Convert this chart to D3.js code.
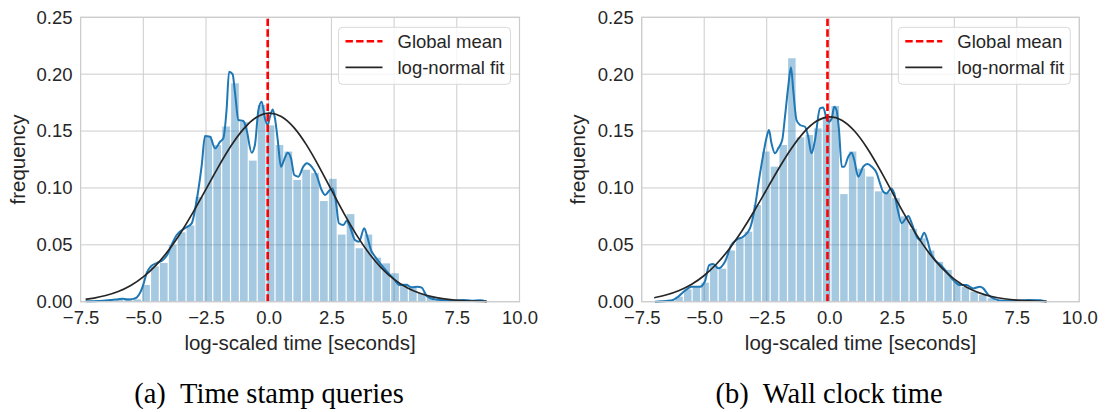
<!DOCTYPE html>
<html>
<head>
<meta charset="utf-8">
<script src="https://cdn.jsdelivr.net/npm/d3@7/dist/d3.min.js"></script>
<style>
  html, body { margin: 0; padding: 0; background: #fff; }
  svg text { font-family: "Liberation Sans", Arial, sans-serif; fill: #262626; }
  svg text.caption { font-family: "Liberation Serif", "DejaVu Serif", serif; fill: #000; }
</style>
</head>
<body>
<div id="chart"></div>
<script>
// axis ticks (shared by both panels)
const xTicks = [-7.5, -5, -2.5, 0, 2.5, 5, 7.5, 10];
const yTicks = [0, 0.05, 0.10, 0.15, 0.20, 0.25];

// (a) time stamp queries: histogram bins, first edge + width
const histStartA = -7.192;
const binWidthA = 0.3546;
const histA = [0.0005, 0.0008, 0.001, 0.002, 0.003, 0.002, 0.0147, 0.031, 0.034, 0.050,
  0.061, 0.067, 0.092, 0.1455, 0.1377, 0.154, 0.192, 0.158, 0.124, 0.173,
  0.155, 0.1377, 0.132, 0.107, 0.116, 0.113, 0.0885, 0.108, 0.059, 0.077,
  0.047, 0.059, 0.0387, 0.0337, 0.025, 0.016, 0.013, 0.0073, 0.0044, 0.0023,
  0.001, 0.0008, 0.0005, 0.0005, 0.0003];

// (a) kde line [x, density]
const kdeA = [[-7.3, 0.0003], [-7.0, 0.0004], [-6.6, 0.0008], [-6.3, 0.0015], [-6.0, 0.0022],
  [-5.8, 0.0025], [-5.6, 0.002], [-5.4, 0.0025], [-5.25, 0.004], [-5.1, 0.009], [-5.0, 0.015],
  [-4.85, 0.026], [-4.7, 0.031], [-4.46, 0.034], [-4.2, 0.037], [-4.05, 0.041], [-3.87, 0.05],
  [-3.67, 0.0586], [-3.34, 0.0645], [-3.07, 0.0689], [-2.87, 0.0894], [-2.67, 0.12], [-2.54, 0.1456],
  [-2.34, 0.145], [-2.14, 0.1348], [-1.94, 0.1406], [-1.81, 0.1436], [-1.68, 0.1685], [-1.58, 0.2022],
  [-1.44, 0.200], [-1.34, 0.1831], [-1.21, 0.1597], [-1.01, 0.1588], [-0.88, 0.1509], [-0.68, 0.131],
  [-0.55, 0.1377], [-0.41, 0.1685], [-0.28, 0.1758], [-0.15, 0.1611], [-0.04, 0.1553], [0.05, 0.1626],
  [0.16, 0.169], [0.25, 0.1611], [0.36, 0.1421], [0.49, 0.1187], [0.61, 0.1245], [0.76, 0.131],
  [0.89, 0.126], [1.02, 0.1113], [1.18, 0.1099], [1.38, 0.1187], [1.52, 0.1216], [1.71, 0.1187],
  [1.91, 0.1113], [2.11, 0.0982], [2.25, 0.0938], [2.41, 0.0976], [2.54, 0.0996], [2.67, 0.0894],
  [2.8, 0.0689], [2.98, 0.0674], [3.11, 0.0712], [3.24, 0.0659], [3.44, 0.0542], [3.6, 0.0527],
  [3.81, 0.0645], [3.93, 0.0571], [4.08, 0.0454], [4.24, 0.0396], [4.45, 0.0335], [4.7, 0.0268],
  [4.97, 0.0205], [5.23, 0.0146], [5.5, 0.0146], [5.7, 0.0126], [5.93, 0.0132], [6.1, 0.0123],
  [6.3, 0.005], [6.56, 0.0023], [6.83, 0.0015], [7.36, 0.0009], [7.76, 0.0015], [8.09, 0.0009],
  [8.42, 0.0012], [8.69, 0.0]];

// (a) log-normal fit [x, density]
const fitA = [[-7.3, 0.0021], [-7.0, 0.003], [-6.5, 0.0052], [-6.0, 0.0087], [-5.5, 0.0139],
  [-5.0, 0.0214], [-4.5, 0.0314], [-4.0, 0.0445], [-3.5, 0.0605], [-3.0, 0.0789], [-2.5, 0.0989],
  [-2.0, 0.119], [-1.5, 0.1376], [-1.0, 0.1528], [-0.5, 0.163], [0.0, 0.167], [0.5, 0.164],
  [1.0, 0.1542], [1.5, 0.1387], [2.0, 0.1193], [2.5, 0.0982], [3.0, 0.0773], [3.5, 0.0583],
  [4.0, 0.042], [4.5, 0.029], [5.0, 0.0191], [5.5, 0.0121], [6.0, 0.0073], [6.5, 0.0042],
  [7.0, 0.0023], [7.5, 0.0012], [8.0, 0.0006], [8.7, 0.0002]];

const meanA = -0.04;

// (b) wall clock time
const histStartB = -6.869;
const binWidthB = 0.347;
const histB = [0.001, 0.002, 0.0044, 0.0108, 0.0126, 0.0167, 0.032, 0.029, 0.045, 0.0557,
  0.0615, 0.085, 0.132, 0.1187, 0.1377, 0.214, 0.1445, 0.1465, 0.1524, 0.1626,
  0.172, 0.0946, 0.132, 0.117, 0.110, 0.097, 0.096, 0.091, 0.075, 0.064,
  0.0557, 0.045, 0.035, 0.028, 0.0176, 0.013, 0.0088, 0.0059, 0.003, 0.0015,
  0.0008, 0.0006, 0.0005, 0.0003];

const kdeB = [[-6.97, 0.0], [-6.37, 0.0009], [-6.04, 0.0044], [-5.77, 0.0097], [-5.51, 0.0132],
  [-5.17, 0.0132], [-4.97, 0.018], [-4.8, 0.0322], [-4.64, 0.0331], [-4.44, 0.0293], [-4.17, 0.0352],
  [-3.91, 0.05], [-3.71, 0.0545], [-3.44, 0.0571], [-3.17, 0.0645], [-2.97, 0.0835], [-2.81, 0.1069],
  [-2.63, 0.1304], [-2.5, 0.145], [-2.41, 0.1509], [-2.31, 0.1392], [-2.17, 0.1304], [-2.04, 0.1348],
  [-1.88, 0.1421], [-1.77, 0.1626], [-1.64, 0.189], [-1.53, 0.206], [-1.44, 0.186], [-1.31, 0.1597],
  [-1.17, 0.1553], [-0.97, 0.1538], [-0.84, 0.145], [-0.71, 0.1304], [-0.57, 0.1421], [-0.37, 0.1699],
  [-0.24, 0.1708], [-0.11, 0.1611], [-0.01, 0.1582], [0.1, 0.1611], [0.2, 0.1714], [0.29, 0.1685],
  [0.39, 0.1509], [0.5, 0.1187], [0.6, 0.1187], [0.76, 0.1275], [0.9, 0.131], [1.0, 0.1245],
  [1.16, 0.1099], [1.36, 0.1187], [1.53, 0.121], [1.7, 0.1187], [1.9, 0.1128], [2.03, 0.104],
  [2.16, 0.0967], [2.29, 0.0952], [2.47, 0.0996], [2.6, 0.0952], [2.74, 0.0806], [2.9, 0.0689],
  [3.06, 0.0732], [3.16, 0.0753], [3.3, 0.0689], [3.5, 0.0571], [3.63, 0.0542], [3.8, 0.0607],
  [3.9, 0.0557], [4.07, 0.0425], [4.23, 0.0366], [4.45, 0.0325], [4.69, 0.0264], [4.96, 0.019],
  [5.23, 0.0146], [5.49, 0.0146], [5.76, 0.0117], [6.03, 0.0132], [6.16, 0.0117], [6.36, 0.0059],
  [6.63, 0.0023], [6.96, 0.0009], [7.36, 0.0009], [7.76, 0.0012], [7.96, 0.0015], [8.43, 0.0012],
  [8.69, 0.0]];

const fitB = [[-7.0, 0.0035], [-6.5, 0.0059], [-6.0, 0.0096], [-5.5, 0.015], [-5.0, 0.0226],
  [-4.5, 0.0329], [-4.0, 0.0459], [-3.5, 0.0616], [-3.0, 0.0795], [-2.5, 0.0988], [-2.0, 0.118],
  [-1.5, 0.1357], [-1.0, 0.150], [-0.5, 0.1598], [0.0, 0.1635], [0.5, 0.1607], [1.0, 0.1512],
  [1.5, 0.1362], [2.0, 0.1175], [2.5, 0.097], [3.0, 0.0767], [3.5, 0.0581], [4.0, 0.0421],
  [4.5, 0.0292], [5.0, 0.0194], [5.5, 0.0124], [6.0, 0.0075], [6.5, 0.0044], [7.0, 0.0025],
  [7.5, 0.0013], [8.0, 0.0007], [8.7, 0.0002]];

const meanB = -0.07;

const legendLabels = ['Global mean', 'log-normal fit'];
const captions = ['(a)\u2002Time stamp queries', '(b)\u2002Wall clock time'];

const width = 1106;
const height = 412;
const margin = {top: 17.3, bottom: 110.3};
const colors = {hist: '#1f77b4', kde: '#1f77b4', fit: '#262626', mean: '#ff0000', grid: '#cccccc'};

const panels = [
  {left: 80.6, right: 519.5, histStart: histStartA, binWidth: binWidthA, hist: histA,
    kde: kdeA, fit: fitA, mean: meanA, caption: captions[0], captionX: 269, labelX: 18},
  {left: 641.7, right: 1079.3, histStart: histStartB, binWidth: binWidthB, hist: histB,
    kde: kdeB, fit: fitB, mean: meanB, caption: captions[1], captionX: 829, labelX: 578},
];

const svg = d3.select('#chart')
  .append('svg')
    .attr('width', width)
    .attr('height', height);

const y = d3.scaleLinear()
  .domain([0, 0.25])
  .range([height - margin.bottom, margin.top]);

const drawPanel = (p) => {
  const x = d3.scaleLinear()
    .domain([-7.5, 10])
    .range([p.left, p.right]);
  const g = svg.append('g');

  // grid
  g.append('g')
    .selectAll('line')
    .data(xTicks)
    .enter().append('line')
      .attr('x1', d => x(d)).attr('x2', d => x(d))
      .attr('y1', y(0)).attr('y2', y(0.25))
      .attr('stroke', colors.grid).attr('stroke-width', 1);
  g.append('g')
    .selectAll('line')
    .data(yTicks)
    .enter().append('line')
      .attr('x1', p.left).attr('x2', p.right)
      .attr('y1', d => y(d)).attr('y2', d => y(d))
      .attr('stroke', colors.grid).attr('stroke-width', 1);

  // histogram
  g.append('g')
    .selectAll('rect')
    .data(p.hist)
    .enter().append('rect')
      .attr('x', (d, i) => x(p.histStart + i * p.binWidth) + 0.5)
      .attr('width', (d, i) => x(p.histStart + (i + 1) * p.binWidth) - x(p.histStart + i * p.binWidth) - 1.2)
      .attr('y', d => y(d))
      .attr('height', d => y(0) - y(d))
      .attr('fill', colors.hist)
      .attr('fill-opacity', 0.4);

  const line = d3.line()
    .x(d => x(d[0]))
    .y(d => y(d[1]))
    .curve(d3.curveMonotoneX);

  g.append('path')
    .datum(p.kde)
    .attr('d', line)
    .attr('fill', 'none')
    .attr('stroke', colors.kde)
    .attr('stroke-width', 2)
    .attr('stroke-linejoin', 'round');

  g.append('path')
    .datum(p.fit)
    .attr('d', line.curve(d3.curveBasis))
    .attr('fill', 'none')
    .attr('stroke', colors.fit)
    .attr('stroke-width', 1.7);

  g.append('line')
    .attr('x1', x(p.mean)).attr('x2', x(p.mean))
    .attr('y1', y(0)).attr('y2', y(0.25))
    .attr('stroke', colors.mean)
    .attr('stroke-width', 2.6)
    .attr('stroke-dasharray', '7.4,3.2');

  // frame (whitegrid spines)
  g.append('rect')
    .attr('x', p.left).attr('y', y(0.25))
    .attr('width', p.right - p.left).attr('height', y(0) - y(0.25))
    .attr('fill', 'none')
    .attr('stroke', colors.grid)
    .attr('stroke-width', 1.2);

  // axes, no tick marks
  const xAxis = g.append('g')
    .attr('transform', `translate(0,${y(0)})`)
    .call(d3.axisBottom(x).tickValues(xTicks).tickFormat(d3.format('.1f')).tickSize(0).tickPadding(9));
  const yAxis = g.append('g')
    .attr('transform', `translate(${p.left},0)`)
    .call(d3.axisLeft(y).tickValues(yTicks).tickFormat(d3.format('.2f')).tickSize(0).tickPadding(8));
  [xAxis, yAxis].forEach(a => {
    a.select('.domain').remove();
    a.selectAll('text')
      .attr('font-size', 18.5)
      .attr('font-family', null)
      .attr('fill', '#262626');
  });

  g.append('text')
    .attr('x', (p.left + p.right) / 2)
    .attr('y', 350)
    .attr('text-anchor', 'middle')
    .attr('font-size', 20.5)
    .text('log-scaled time [seconds]');

  g.append('text')
    .attr('transform', `translate(${p.labelX + 7},${(y(0) + y(0.25)) / 2}) rotate(-90)`)
    .attr('text-anchor', 'middle')
    .attr('font-size', 20.5)
    .text('frequency');

  // legend
  const lg = g.append('g')
    .attr('transform', `translate(${p.right - 181},${y(0.25) + 10})`);
  lg.append('rect')
    .attr('width', 172).attr('height', 57)
    .attr('rx', 4)
    .attr('fill', '#fff').attr('fill-opacity', 0.8)
    .attr('stroke', '#d9d9d9').attr('stroke-width', 1);
  lg.append('line')
    .attr('x1', 7).attr('x2', 44).attr('y1', 14).attr('y2', 14)
    .attr('stroke', colors.mean).attr('stroke-width', 2.6)
    .attr('stroke-dasharray', '7.4,3.2');
  lg.append('line')
    .attr('x1', 7).attr('x2', 44).attr('y1', 40).attr('y2', 40)
    .attr('stroke', colors.fit).attr('stroke-width', 1.7);
  lg.selectAll('text.lbl')
    .data(legendLabels)
    .enter().append('text')
      .attr('class', 'lbl')
      .attr('x', 59)
      .attr('y', (d, i) => 20.5 + i * 26)
      .attr('font-size', 18.5)
      .text(d => d);

  svg.append('text')
    .attr('class', 'caption')
    .attr('x', p.captionX)
    .attr('y', 403)
    .attr('text-anchor', 'middle')
    .attr('font-size', 28.5)
    .text(p.caption);
};

panels.forEach(drawPanel);
</script>
</body>
</html>
